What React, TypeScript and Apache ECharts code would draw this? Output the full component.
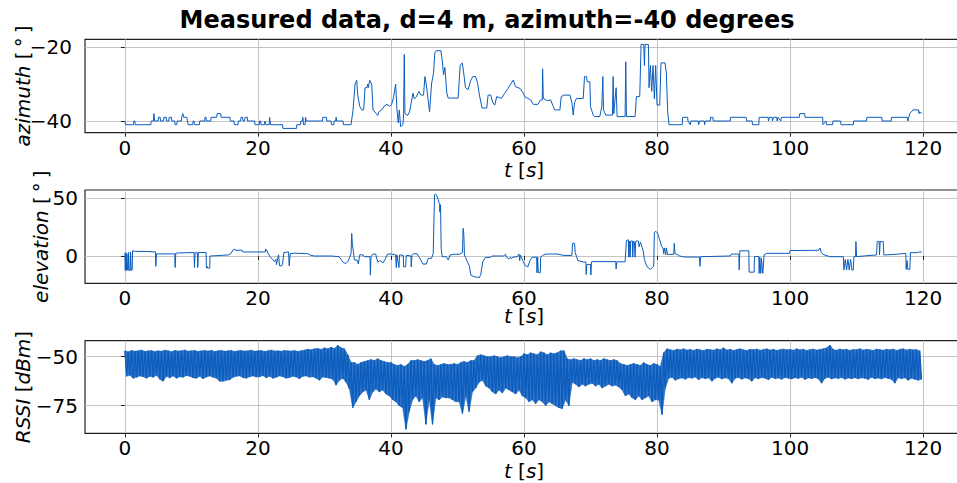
import React, { useEffect, useRef } from "react";
import * as echarts from "echarts";

const TITLE = "Measured data, d=4 m, azimuth=-40 degrees";
const xTicks = [0, 20, 40, 60, 80, 100, 120];
const azTicks = [-40, -20];
const elTicks = [0, 50];
const rssiTicks = [-75, -50];

// azimuth [deg] vs t [s]
const azimuth: number[][] = [
  [0,-40],[0.1,-41],[1.3,-41],[1.35,-40],[1.5,-40],[1.55,-41],[3.9,-41],[3.95,-40],[4.3,-40],[4.35,-38],[4.45,-38],[4.5,-40],
  [5.0,-40],[5.05,-39],[5.3,-39],[5.35,-40],[5.8,-40],[5.85,-39],[6.2,-39],[6.25,-40],[6.6,-40],[6.65,-39],[7.0,-39],[7.05,-40],
  [7.5,-40],[7.55,-41],[7.8,-41],[7.85,-40],[8.5,-40],[8.55,-39],[8.7,-38],[8.85,-39],[9.3,-39],[9.4,-40],[9.5,-41],[10.2,-41],
  [10.25,-40],[10.4,-40],[10.45,-41],[11.2,-41],[11.25,-40],[12.0,-40],[12.05,-39],[12.2,-39],[12.25,-40],[12.9,-40],[12.95,-39],
  [13.8,-39],[13.85,-38],[14.4,-38],[14.45,-39],[15.8,-39],[15.85,-40],[16.4,-40],[16.45,-41],[17.0,-41],[17.05,-40],[17.4,-40],
  [17.45,-39],[17.7,-39],[17.75,-40],[18.0,-40],[18.05,-39],[18.4,-39],[18.45,-40],[19.5,-40],[19.55,-41],[20.2,-41],[20.25,-40],
  [20.4,-40],[20.45,-41],[21.0,-41],[21.05,-40],[21.2,-41],[21.7,-41],[21.75,-39],[21.85,-39],[21.9,-41],[23.7,-41],[23.75,-42],
  [25.8,-42],[25.85,-41],[26.4,-41],[26.45,-40],[26.7,-40],[26.75,-39],[26.85,-41],[27.1,-41],[27.15,-39],[27.3,-40],[29.7,-40],
  [29.75,-39],[30.3,-39],[30.35,-40],[31.0,-40],[31.05,-41],[31.4,-41],[31.45,-40],[31.7,-40],[31.75,-39],[31.85,-40],[32.8,-40],
  [32.85,-41],[34.0,-41],[34.3,-37],[34.6,-30],[34.85,-29],[35.0,-33],[35.3,-36],[35.6,-37],[35.9,-37],[36.1,-31],[36.4,-31],
  [36.5,-30],[36.6,-31],[36.8,-29],[37.1,-30],[37.3,-37],[37.8,-38],[38.0,-38.5],[38.2,-37.5],[38.6,-37],[39.0,-36],[39.4,-35.5],
  [39.8,-36],[40.1,-35.5],[40.4,-33.5],[40.7,-30],[40.9,-37],[41.1,-40.5],[41.25,-37],[41.45,-41.5],[41.8,-41],[41.9,-38],
  [42.0,-22],[42.1,-38],[42.5,-38.5],[42.8,-37.5],[43.3,-32.5],[43.5,-34],[43.8,-33.5],[44.2,-32],[44.5,-33],[44.9,-33],
  [45.1,-28],[45.3,-30],[45.8,-37.5],[46.1,-30],[46.4,-27],[46.6,-21.5],[46.8,-21],[47.5,-21],[47.7,-23.5],[47.9,-27.5],
  [48.1,-25.5],[48.4,-32.5],[48.6,-33.8],[50.1,-33.8],[50.4,-25],[50.7,-24.3],[50.9,-26.5],[51.2,-31],[51.6,-31.5],[52.0,-29],
  [52.3,-28],[52.7,-28],[53.0,-29.5],[53.3,-33],[53.7,-36.5],[54.4,-36.5],[54.6,-33],[55.0,-33],[55.3,-35],[55.6,-35.7],
  [55.9,-33.4],[56.6,-33.9],[57.1,-32.5],[57.6,-31.2],[57.9,-30.3],[58.4,-28.9],[58.7,-30.7],[59.4,-31.2],[59.9,-32.5],
  [60.1,-33.4],[60.6,-33.9],[61.0,-34.3],[61.4,-35.5],[62.1,-35.5],[62.5,-34.3],[62.75,-34.3],[62.8,-25.9],[62.9,-33.9],
  [63.5,-34.5],[64.0,-34.3],[64.4,-36.1],[64.6,-37],[65.4,-37],[65.6,-33.4],[66.0,-33],[66.9,-33],[67.2,-35],[67.4,-38.4],
  [67.6,-35],[67.9,-33.9],[68.9,-33.9],[69.1,-28],[69.4,-28],[69.5,-29.4],[69.9,-29.4],[70.0,-36.1],[70.4,-38.4],[70.6,-38.8],
  [71.4,-38.8],[71.7,-36.1],[71.85,-28],[71.95,-37],[72.3,-38.4],[73.3,-38.4],[73.4,-28],[73.5,-38],[73.85,-31],[74.0,-38.8],
  [75.2,-38.8],[75.3,-24],[75.4,-38.8],[76.7,-38.8],[76.9,-33.4],[77.4,-33.4],[77.6,-19.3],[78.0,-19.3],[78.1,-25],[78.2,-19.3],
  [78.7,-19.3],[78.8,-31],[79.0,-25],[79.2,-32],[79.4,-25],[79.6,-34],[79.8,-25],[80.0,-35.7],[80.4,-35.7],[80.6,-24.3],
  [81.2,-24.3],[81.4,-27],[81.6,-37.5],[81.8,-41],[83.8,-41],[83.85,-39],[84.6,-39],[84.65,-40],[85.0,-41],[85.1,-40],[86.2,-40],
  [86.25,-41],[86.4,-40],[87.1,-40],[87.15,-41],[87.25,-40],[88.0,-40],[88.05,-39],[88.4,-39],[88.45,-40],[91.0,-40],[91.05,-39],
  [93.4,-39],[93.45,-40],[94.3,-40],[94.35,-41],[95.3,-41],[95.35,-39],[96.7,-39],[96.75,-40],[96.9,-39],[97.3,-39],[97.35,-40],
  [97.5,-39],[98.0,-39],[98.05,-40],[98.2,-39],[98.6,-40],[98.7,-39],[101.4,-39],[101.45,-38],[102.2,-38],[102.25,-39],
  [104.9,-39],[104.95,-41],[105.4,-40],[105.5,-41],[106.4,-41],[106.45,-40],[107.6,-40],[107.65,-41],[109.5,-41],[109.55,-40],
  [111.5,-40],[111.55,-39],[113.8,-39],[113.85,-40],[115.2,-40],[115.25,-39],[117.6,-39],[117.7,-40],[118.0,-38],[118.5,-37],
  [119.3,-37],[119.4,-38],[119.5,-37.5],[119.8,-38]
];

// elevation [deg] vs t [s]
const elevation: number[][] = [
  [0,2.5],[0.05,-12.5],[0.15,3],[0.25,-12.5],[0.3,2],[0.4,-12],[0.5,-12.5],[0.55,3],[0.65,-12.5],[0.8,-12.5],[0.85,3.5],
  [0.95,-12.5],[1.1,-12],[1.15,4.5],[1.6,4],[3.0,4],[4.6,3.5],[4.65,-9],[4.75,1.8],[7.5,1.8],[7.55,-10],[7.65,2.5],[9.0,2.8],
  [10.4,3],[10.45,-10],[10.55,2.8],[10.9,2.8],[10.95,-10],[11.05,3],[12.2,3],[12.25,-10.5],[12.35,-9],[12.45,-10.5],[12.75,-10.5],
  [12.8,0],[14.5,0.5],[15.6,1],[16.0,2.5],[16.2,5],[16.5,6],[16.6,5],[17.6,5],[17.7,3.5],[21.1,3.5],[21.15,6],[21.3,5.5],
  [21.4,3.5],[21.8,-0.5],[22.2,-3],[22.5,-5],[22.7,-3],[22.8,-7.5],[23.0,-1],[23.1,1],[23.25,-8.5],[23.6,-8.5],[23.7,-7],
  [23.9,3],[24.6,3.5],[24.7,-8.5],[24.85,2],[25.5,2.5],[27.5,2],[28.0,0.5],[28.5,0],[31.0,0],[32.2,-0.6],[32.5,-3],[32.8,-5.5],
  [33.2,-6.5],[33.5,-5],[33.8,-1],[34.0,2],[34.1,19.5],[34.2,10],[34.35,4],[34.5,-3.5],[34.9,-3.5],[35.1,-6.9],[35.3,1],
  [35.8,1],[36.0,-0.6],[36.85,-0.6],[36.9,-16.6],[37.0,-0.6],[37.3,1.7],[37.7,1.7],[38.0,-5],[38.4,-4],[38.8,-6],[39.1,-3],
  [39.5,1.7],[40.1,1.7],[40.7,1],[40.8,-10],[40.9,1],[41.2,-10],[41.3,1],[41.85,0.5],[41.9,-9.5],[42.2,-9.5],[42.3,0.5],
  [43.0,0],[43.05,-9.5],[43.15,0.5],[43.4,2],[43.9,2],[44.2,-0.6],[44.8,-7],[45.3,-7],[45.6,-2],[46.1,-2],[46.35,2],
  [46.55,53],[46.7,53.8],[46.9,52],[47.1,49],[47.3,44.5],[47.35,38],[47.45,44.5],[47.55,6.7],[47.7,-0.6],[48.3,-0.6],
  [48.6,-3.5],[48.9,0.9],[49.4,1.5],[50.3,1.5],[50.75,3],[50.85,24],[50.95,19],[51.05,1],[51.2,-1],[51.5,-5],[51.8,-9],
  [52.0,-16.5],[52.5,-18],[53.3,-18.6],[53.5,-16],[53.8,-5],[54.2,-1.2],[54.9,-1.2],[55.2,0],[56.9,0],[57.2,1.5],[57.4,-1.2],
  [57.7,-2.5],[58.0,-1.2],[58.1,-2.5],[58.3,-1.2],[59.0,-0.5],[59.25,1.7],[59.35,-4],[59.45,0.9],[59.9,-5],[60.2,-8.4],
  [60.6,-9.3],[60.9,-4],[61.2,-1.2],[61.9,-1],[61.95,-14.5],[62.05,-1],[62.15,-14.5],[62.45,-14.5],[62.5,-1],[62.9,0.9],
  [63.4,1.7],[65.0,1.7],[66.0,0.5],[67.2,0.5],[67.3,11],[67.6,11],[67.7,3],[67.9,-0.6],[68.1,-4],[68.9,-5.2],[69.3,-5.2],
  [69.35,-16],[69.45,-7.3],[70.0,-7.3],[70.05,-16.5],[70.15,-5],[70.4,-4.9],[73.8,-4.9],[73.85,-11.3],[73.95,-5],[75.2,-5],
  [75.4,13.5],[75.7,14],[75.75,-1],[75.85,13],[75.95,-1],[76.05,13],[76.3,13],[76.35,-1],[76.45,13],[76.6,12],[76.7,-1],
  [76.8,13],[77.2,13],[77.3,8],[77.5,12],[77.9,5],[78.1,-3],[78.4,-8],[78.7,-10.5],[79.0,-11.5],[79.3,-10],[79.5,-9],
  [79.6,20],[79.8,21.5],[80.1,19.5],[80.4,14],[80.7,8],[80.9,7],[81.0,2],[81.1,7],[81.3,1],[81.4,7],[81.6,1],[81.8,1.5],
  [82.5,1.5],[82.6,11],[82.7,2],[83.0,1.5],[83.4,0],[84.2,-0.9],[86.4,-0.9],[86.45,-9],[86.55,-0.6],[91.0,0],[91.2,1.7],
  [92.3,1.7],[92.35,-12],[92.45,4.5],[93.8,4.5],[93.85,-14],[94.6,-14],[94.65,-0.5],[95.3,-0.5],[95.35,-15],[95.45,-1],
  [95.6,-15],[95.7,-2],[95.9,-15],[96.0,-15],[96.1,1],[96.5,2.3],[99.9,2.3],[100.0,4.7],[103.4,4.9],[104.3,5],[104.5,7],
  [104.7,3],[105.1,1],[106.0,-0.6],[108.0,-0.6],[108.1,-12.2],[108.3,-3],[108.5,-12.2],[108.7,-3],[108.9,-12.2],[109.0,-12.2],
  [109.1,-3],[109.3,-12.2],[109.5,-12.2],[109.6,-0.6],[109.85,-0.6],[109.9,12.5],[110.0,-0.5],[113.0,0.9],[113.1,12.5],
  [113.4,12.5],[113.45,1],[113.55,12.5],[114.0,12.5],[114.1,0.9],[116.0,1.5],[117.4,2.3],[117.45,-11.6],[117.6,-4],
  [117.7,-11.6],[118.0,-11.6],[118.1,2.9],[119.0,2.9],[119.5,3.5],[119.8,3.5]
];

// RSSI envelope per 0.5 s bin (upper / lower reading), t = 0 .. 119.5
const rssiStep = 0.5;
const rssiHigh = [
  -47,-47.5,-46.8,-47.2,-47,-46.6,-47.3,-47,-46.9,-47.4,
  -47,-47.2,-46.7,-47,-47.5,-46.8,-47.1,-47,-46.6,-47.2,
  -47,-46.8,-47.3,-47,-46.9,-47.1,-46.7,-47.4,-47,-46.8,
  -47.2,-47,-46.9,-47.3,-47,-46.8,-47.1,-47,-46.7,-47.2,
  -47,-46.9,-47.3,-47,-46.6,-47.1,-47,-47.2,-46.8,-47,
  -47.1,-46.9,-47.3,-47,-46.6,-46.2,-46.5,-46,-45.8,-46.3,
  -45.5,-46,-45.2,-45.8,-44.2,-45.5,-46,-49,-53,-53,
  -54,-53,-52.5,-52,-51.5,-52,-51,-52,-52.5,-53,
  -53,-54,-54.5,-54,-55,-54,-52,-52,-51.5,-52,
  -52.5,-52,-51,-54,-54.5,-54,-53.5,-54,-54,-53.5,
  -54,-53,-52.5,-53,-52,-52,-49.5,-49,-49.5,-50,
  -50,-49.5,-50,-50.5,-50,-49.5,-50,-50,-50.5,-50,
  -48.5,-49,-48,-48.5,-49,-47.5,-48,-49,-48,-48.5,
  -48,-47,-47,-51,-51.5,-51,-51.5,-52,-51,-51.5,
  -51,-52,-51.5,-52,-51,-51.5,-52,-51.5,-52,-53.5,
  -54,-54.5,-54,-53.5,-54,-54.5,-53,-54,-54.5,-53.5,
  -54,-55,-48,-46,-46.4,-46.8,-46.2,-46.5,-46,-46.6,
  -46.3,-46.8,-46.1,-46.5,-46.9,-46.2,-46.4,-46.7,-46,-46.5,
  -45.5,-46.6,-46.2,-46.8,-46.3,-46,-46.5,-46.9,-46.2,-46.4,
  -46.1,-46.7,-46.3,-46,-46.6,-46.2,-46.8,-46.4,-46.1,-46.5,
  -46.3,-46.7,-46,-46.5,-46.2,-46.8,-46.4,-46.1,-46.6,-46.3,
  -46,-45.5,-44.2,-46.3,-46.7,-46.1,-46.5,-46.2,-46.8,-46.3,
  -46.4,-46,-46.6,-46.2,-46.5,-46.9,-46.1,-46.4,-46.7,-46.2,
  -46.5,-46.1,-46.8,-46.3,-46,-46.6,-46.2,-46.5,-46.4,-47
];
const rssiLow = [
  -60,-59.5,-61,-60.5,-59.8,-60.2,-61,-60,-60.5,-59.5,
  -61.5,-62.5,-60,-60.8,-59.8,-61,-60.2,-60.5,-59.6,-60,
  -60.8,-61,-60,-61.2,-60.4,-59.8,-60.5,-61,-62.5,-62.5,
  -62,-61.8,-60.5,-60,-59.8,-60.6,-61,-60.2,-59.8,-60.4,
  -60.2,-59.6,-60.8,-60,-61,-60.5,-59.8,-60.2,-61,-60.6,
  -60,-60.4,-61.2,-60,-59.8,-60.5,-60.2,-61,-62,-60.3,
  -60.6,-61,-61.5,-64.5,-62,-61,-63,-66.5,-76,-73,
  -70,-68,-67,-72,-68,-66.5,-68,-67,-69,-70,
  -72,-73,-75,-76,-87,-78,-72,-70,-73,-71,
  -84.5,-72,-84.5,-71,-72,-70.5,-71,-71,-72,-73,
  -73,-79,-70,-78,-68,-66,-63,-62,-65,-66,
  -68,-69,-67,-68.5,-66,-67,-68,-69,-67,-70,
  -71,-73,-72,-74,-72,-73,-75,-73,-74,-75,
  -76,-76.5,-72,-75,-63,-64,-65.5,-64,-65,-64,
  -63.5,-65,-64,-66,-65,-64,-65,-64.5,-65.5,-67,
  -70,-69,-71,-72,-70,-72,-71,-70,-73,-72,
  -72,-79.5,-66,-61,-60.5,-62,-61.2,-60.8,-61.5,-60.6,
  -61,-60.4,-61.8,-60.6,-61.2,-60.8,-62.5,-61,-60.5,-61.4,
  -60.8,-61.2,-63.5,-61,-60.6,-61.5,-60.8,-61.2,-62.5,-60.7,
  -61.3,-60.6,-61,-61.8,-60.5,-61.2,-60.9,-61.5,-60.6,-61,
  -61.4,-60.7,-61.1,-60.5,-61.6,-60.8,-61.2,-60.6,-61.3,-63.5,
  -61,-60.5,-61.4,-60.8,-61.1,-60.6,-61.5,-60.9,-61.2,-60.7,
  -61.3,-60.8,-61,-61.6,-60.5,-61.2,-60.9,-61.4,-60.6,-61.1,
  -61.5,-63.5,-60.7,-61.2,-60.8,-62,-61,-61.5,-62,-61.5
];

const FONT = "DejaVu Sans";
const LINE = "#0a5cbd";
const GRID = "#c4c4c4";

function fmtTick(v: number) {
  return v < 0 ? "\u2212" + Math.abs(v) : String(v);
}

export default function App() {
  const ref = useRef<HTMLDivElement>(null);
  useEffect(() => {
    if (!ref.current) return;
    const chart = echarts.init(ref.current, null, { renderer: "svg", width: 957, height: 483 });

    const half = rssiStep / 2;
    // zig-zag trace between the upper and lower reading of each bin
    const rssi: number[][] = [];
    rssiHigh.forEach((h, i) => {
      rssi.push([i * rssiStep, h]);
      rssi.push([i * rssiStep + half, rssiLow[i]]);
    });
    // dense core of the trace: one quad per pair of neighbouring bins
    const band = rssiHigh.slice(0, -1).map((h, i) => [i * rssiStep, h, rssiLow[i], rssiHigh[i + 1], rssiLow[i + 1]]);

    const gridTops = [39.3, 190, 340.7];
    const gridHeights = [93.4, 93.3, 92.6];
    const xNameGaps = [27, 23, 28];
    const yRanges = [[-43.16, -17.92], [-23.66, 57.2], [-89.08, -41.84]];
    const yTicks = [azTicks, elTicks, rssiTicks];
    const yNames = ["{i|azimuth} [\u2009\u00b0\u2009]", "{i|elevation} [\u2009\u00b0\u2009]", "{i|RSSI} [{i|dBm}]"];
    const yNameGaps = [52, 34, 52];
    const yLabelMargins = [13, 7, 7];

    const richName = {
      fontSize: 20, fontFamily: FONT, color: "#000",
      rich: { i: { fontStyle: "italic", fontSize: 20, fontFamily: FONT, color: "#000" } },
    };

    const option: any = {
      animation: false,
      backgroundColor: "#fff",
      grid: gridTops.map((top, i) => ({
        left: 85, width: 878, top, height: gridHeights[i],
        show: true, borderColor: "#222", borderWidth: 1.2, backgroundColor: "transparent",
        containLabel: false, outerBoundsMode: "none",
      })),
      xAxis: gridTops.map((_, i) => ({
        type: "value", gridIndex: i, min: -6, max: 126,
        axisLine: { show: false },
        axisTick: { show: true, customValues: xTicks, length: 4, lineStyle: { color: "#222" } },
        axisLabel: { customValues: xTicks, fontSize: 20, fontFamily: FONT, color: "#000", margin: 5, formatter: fmtTick },
        splitLine: { show: true, lineStyle: { color: GRID, width: 1 } },
        name: "{i|t} [{i|s}]", nameLocation: "middle", nameGap: xNameGaps[i], nameTextStyle: richName,
        nameMoveOverlap: false,
      })),
      yAxis: gridTops.map((_, i) => ({
        type: "value", gridIndex: i, min: yRanges[i][0], max: yRanges[i][1],
        axisLine: { show: false },
        axisTick: { show: true, customValues: yTicks[i], length: 4, lineStyle: { color: "#222" } },
        axisLabel: { customValues: yTicks[i], fontSize: 20, fontFamily: FONT, color: "#000", margin: yLabelMargins[i], formatter: fmtTick },
        splitLine: { show: true, lineStyle: { color: GRID, width: 1 } },
        name: yNames[i], nameLocation: "middle", nameRotate: 90, nameGap: yNameGaps[i], nameTextStyle: richName,
        nameMoveOverlap: false,
      })),
      series: [
        { type: "line", xAxisIndex: 0, yAxisIndex: 0, data: azimuth, showSymbol: false, symbol: "none", lineStyle: { width: 1, color: LINE } },
        { type: "line", xAxisIndex: 1, yAxisIndex: 1, data: elevation, showSymbol: false, symbol: "none", lineStyle: { width: 1, color: LINE } },
        {
          type: "custom", xAxisIndex: 2, yAxisIndex: 2, data: band, silent: true, clip: true,
          encode: { x: 0, y: [1, 2] },
          renderItem: (_params: any, api: any) => {
            const t = api.value(0);
            const pts = [
              api.coord([t, api.value(1)]),
              api.coord([t + rssiStep, api.value(3)]),
              api.coord([t + rssiStep + half, api.value(4)]),
              api.coord([t + half, api.value(2)]),
            ];
            return {
              type: "polygon",
              shape: { points: pts },
              style: { fill: LINE, stroke: LINE, lineWidth: 0.6, opacity: 0.85 },
            };
          },
        },
        { type: "line", xAxisIndex: 2, yAxisIndex: 2, data: rssi, showSymbol: false, symbol: "none", lineStyle: { width: 1.2, color: LINE } },
      ],
      graphic: [
        {
          type: "text", x: 487, y: 20,
          style: { text: TITLE, font: `bold 24px "${FONT}"`, fill: "#000", textAlign: "center", textVerticalAlign: "middle" },
        },
      ],
    };
    chart.setOption(option);
    return () => chart.dispose();
  }, []);
  return <div ref={ref} style={{ position: "absolute", left: 0, top: 0, width: 957, height: 483 }} />;
}
